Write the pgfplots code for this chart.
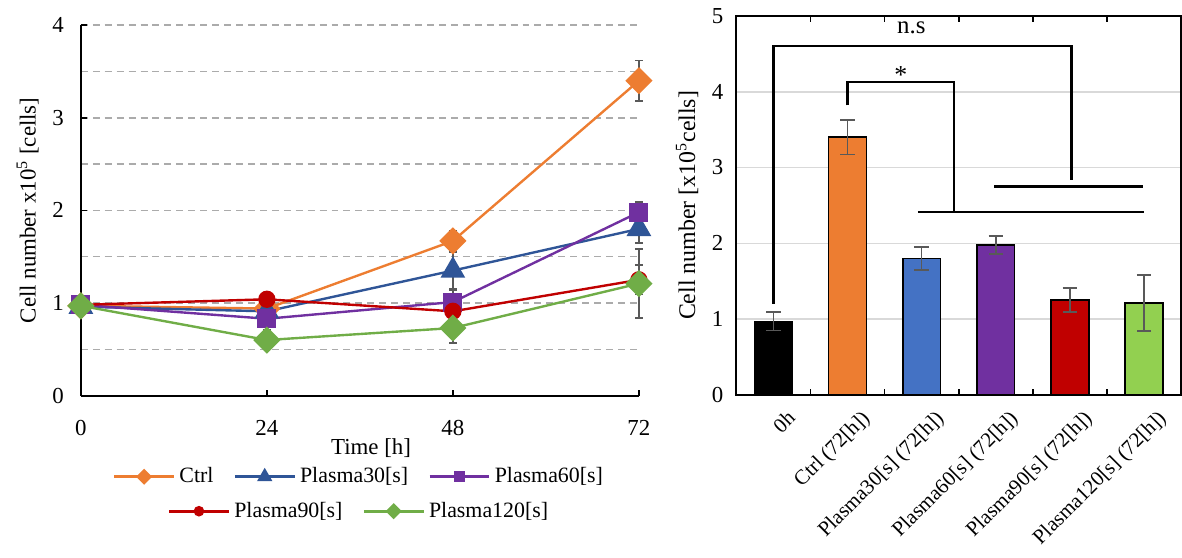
\documentclass[border=0pt]{standalone}
\usepackage{fontspec}
\setmainfont{Liberation Serif}
\usepackage{pgfplots}
\pgfplotsset{compat=1.18}
\usepackage{pgfplotstable}
\definecolor{cOrange}{HTML}{ED7D31}
\definecolor{cBlueL}{HTML}{2F5597}
\definecolor{cBlueB}{HTML}{4472C4}
\definecolor{cPurple}{HTML}{7030A0}
\definecolor{cRed}{HTML}{C00000}
\definecolor{cGreenL}{HTML}{70AD47}
\definecolor{cGreenB}{HTML}{92D050}
\definecolor{errgray}{HTML}{595959}
\definecolor{gridgray}{HTML}{ABABAB}
\definecolor{gridlight}{HTML}{D9D9D9}

\pgfplotstableread{
t ctrl ectrl p30 ep30 p60 ep60 p90 ep90 p120 ep120
0 0.97 0.08 0.96 0.05 0.98 0.05 0.98 0.05 0.97 0.08
24 0.94 0.05 0.91 0.06 0.83 0.12 1.04 0.05 0.60 0.08
48 1.67 0.115 1.35 0.20 1.01 0.13 0.91 0.05 0.73 0.16
72 3.40 0.22 1.80 0.15 1.98 0.11 1.25 0.16 1.21 0.37
}\linedata

\pgfplotsset{
  errstyle/.style={
    error bars/.cd, y dir=both, y explicit,
    error bar style={color=errgray, line width=0.8pt, solid},
    error mark options={rotate=90, errgray, mark size=2pt, line width=0.8pt},
    /pgfplots/.cd
  },
  barerr/.style={
    error bars/.cd, y dir=both, y explicit,
    error bar style={color=errgray, line width=0.8pt, solid},
    error mark options={rotate=90, errgray, mark size=3.6pt, line width=0.8pt},
    /pgfplots/.cd
  },
  legimg/.style={legend image code/.code={
    \draw[line width=1.5pt, mark repeat=2, mark phase=2, every mark/.append style={scale=0.5}]
      plot coordinates {(0pt,0pt) (15pt,0pt) (30pt,0pt)};}},
  legsty/.style={draw=none, fill=none, font=\fontsize{11}{13}\selectfont,
    /tikz/every even column/.append style={column sep=8pt}},
  sCtrl/.style={cOrange, line width=1.2pt, mark=square*, mark size=4.24pt, mark options={rotate=45, fill=cOrange, draw=cOrange}, legimg},
  sP30/.style={cBlueL, line width=1.2pt, mark=triangle*, mark size=6pt, mark options={fill=cBlueL, draw=cBlueL}, legimg},
  sP60/.style={cPurple, line width=1.2pt, mark=square*, mark size=4.2pt, mark options={fill=cPurple, draw=cPurple}, legimg},
  sP90/.style={cRed, line width=1.2pt, mark=*, mark size=3.75pt, mark options={fill=cRed, draw=cRed}, legimg},
  sP120/.style={cGreenL, line width=1.2pt, mark=square*, mark size=4.24pt, mark options={rotate=45, fill=cGreenL, draw=cGreenL}, legimg},
}

\begin{document}
\begin{tikzpicture}
\begin{axis}[
  name=left,
  at={(0pt,0pt)}, anchor=south west,
  scale only axis, width=280.5pt, height=186.2pt,
  xmin=0, xmax=72, ymin=0, ymax=4,
  axis x line*=bottom, axis y line*=left,
  axis line style={line width=1pt},
  xtick={0,24,48,72}, ytick={0,1,2,3,4}, minor ytick={0.5,1.5,2.5,3.5},
  ymajorgrids, yminorgrids,
  major grid style={dash pattern=on 3.5pt off 2.5pt, gridgray, line width=0.8pt},
  minor grid style={dash pattern=on 3.5pt off 2.5pt, gridgray, line width=0.8pt},
  tick align=inside, major tick length=3pt,
  tick style={black, line width=0.8pt},
  minor tick length=0pt,
  /pgf/number format/assume math mode=true,
  ticklabel style={font=\fontsize{11.5}{13}\selectfont},
  xticklabel style={yshift=-9pt},
  yticklabel style={xshift=-5pt},
  xlabel={Time [h]},
  xlabel style={at={(axis description cs:0.52,-0.098)}, anchor=north, font=\fontsize{11.5}{13}\selectfont},
  ylabel={Cell number x10\textsuperscript{5} [cells]},
  ylabel style={font=\fontsize{11.5}{13}\selectfont},
  legend style={legsty, at={(0.5,-0.172)}, anchor=north, legend columns=3},
  legend cell align=left,
  clip=false,
]
\addplot[sCtrl, errstyle] table[x=t, y=ctrl, y error=ectrl]{\linedata};
\addlegendentry{Ctrl}
\addplot[sP30, errstyle] table[x=t, y=p30, y error=ep30]{\linedata};
\addlegendentry{Plasma30[s]}
\addplot[sP60, errstyle] table[x=t, y=p60, y error=ep60]{\linedata};
\addlegendentry{Plasma60[s]}
\addplot[forget plot, sP90, errstyle] table[x=t, y=p90, y error=ep90]{\linedata};
\addplot[forget plot, sP120, errstyle] table[x=t, y=p120, y error=ep120]{\linedata};
\end{axis}
\path (left.outer west) ++(-5pt,0pt);

% second legend row (legend only, no data)
\begin{axis}[
  at={(0pt,0pt)}, anchor=south west,
  scale only axis, width=280.5pt, height=186.2pt,
  xmin=0, xmax=1, ymin=0, ymax=1, hide axis,
  legend style={legsty, at={(0.5,-0.265)}, anchor=north, legend columns=2},
  legend cell align=left,
]
\addlegendimage{sP90}
\addlegendentry{Plasma90[s]}
\addlegendimage{sP120}
\addlegendentry{Plasma120[s]}
\end{axis}

\begin{axis}[
  name=right,
  at={(329.5pt,0.35pt)}, anchor=south west,
  scale only axis, width=223.5pt, height=190.5pt,
  xmin=-0.5, xmax=5.5, ymin=0, ymax=5,
  axis line style={line width=1pt},
  ytick={0,1,2,3,4,5},
  ymajorgrids, major grid style={gridlight, line width=0.8pt},
  xtick={0,1,2,3,4,5},
  xticklabels={0h, Ctrl (72[h]), Plasma30[s] (72[h]), Plasma60[s] (72[h]), Plasma90[s] (72[h]), Plasma120[s] (72[h])},
  minor x tick num=1,
  major tick length=0pt,
  minor tick length=3pt,
  tick align=inside,
  minor tick style={black, line width=0.8pt},
  /pgf/number format/assume math mode=true,
  yticklabel style={font=\fontsize{11.5}{13}\selectfont, xshift=-3pt},
  xticklabel style={rotate=45, anchor=north east, font=\fontsize{10.5}{12}\selectfont, xshift=3pt, yshift=-6pt},
  ylabel={Cell number [x10\textsuperscript{5}cells]},
  ylabel style={font=\fontsize{12}{14}\selectfont},
  clip=false,
]
\addplot[ybar, bar width=19pt, fill=black, draw=black, line width=0.8pt, barerr]
  coordinates {(0,0.97) +- (0,0.12)};
\addplot[ybar, bar width=19pt, fill=cOrange, draw=black, line width=0.8pt, barerr]
  coordinates {(1,3.40) +- (0,0.23)};
\addplot[ybar, bar width=19pt, fill=cBlueB, draw=black, line width=0.8pt, barerr]
  coordinates {(2,1.80) +- (0,0.15)};
\addplot[ybar, bar width=19pt, fill=cPurple, draw=black, line width=0.8pt, barerr]
  coordinates {(3,1.98) +- (0,0.12)};
\addplot[ybar, bar width=19pt, fill=cRed, draw=black, line width=0.8pt, barerr]
  coordinates {(4,1.25) +- (0,0.16)};
\addplot[ybar, bar width=19pt, fill=cGreenB, draw=black, line width=0.8pt, barerr]
  coordinates {(5,1.21) +- (0,0.37)};
% significance brackets
\addplot[black, line width=1.2pt, no marks] coordinates {(0,1.2) (0,4.6) (4.02,4.6) (4.02,2.83)};
\addplot[black, line width=1.2pt, no marks] coordinates {(2.98,2.75) (4.99,2.75)};
\addplot[black, line width=1.2pt, no marks] coordinates {(1,3.82) (1,4.13) (2.44,4.13) (2.44,2.43)};
\addplot[black, line width=1.2pt, no marks] coordinates {(1.95,2.41) (5.0,2.41)};
\node[font=\fontsize{12.5}{15}\selectfont] at (axis cs:1.86,4.84) {n.s};
\node[font=\fontsize{13}{15}\selectfont] at (axis cs:1.72,4.22) {*};
\end{axis}
\path (right.north) ++(0pt,8pt);
\end{tikzpicture}
\end{document}
